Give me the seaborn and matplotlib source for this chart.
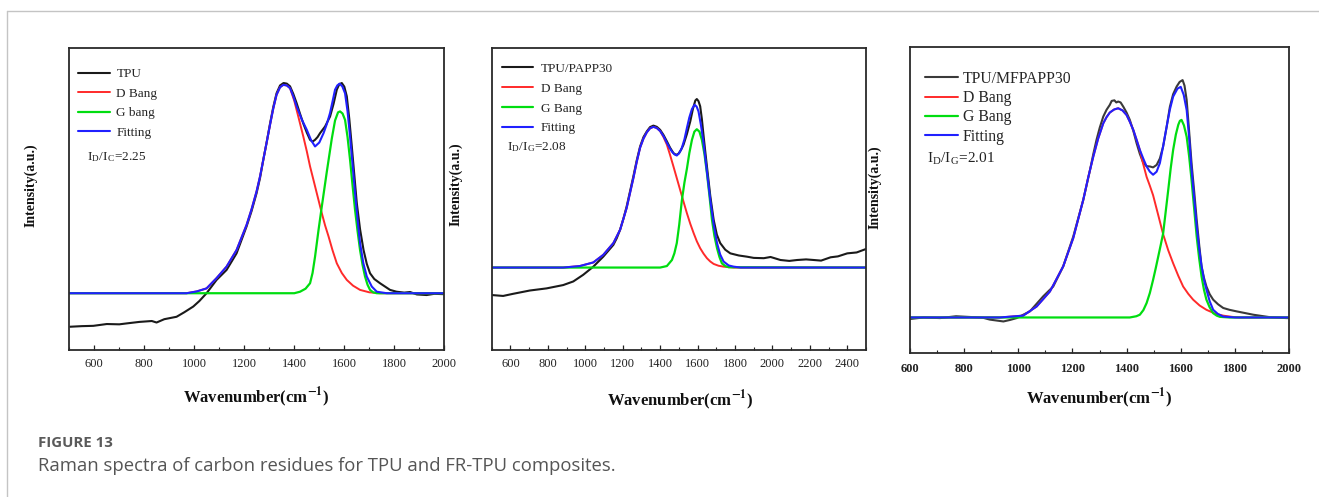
import numpy as np
import pandas as pd
import matplotlib
matplotlib.use("Agg")
import matplotlib.pyplot as plt
from matplotlib.lines import Line2D
from matplotlib.ticker import MultipleLocator
import seaborn as sns

# ---------------- data (arbitrary intensity units) ----------------
# Panel 1 : TPU
p1_raw_x = [503, 550, 596, 650, 700, 729, 780, 830, 849, 880, 929, 960, 996, 1020, 1049, 1089, 1129,
            1169, 1209, 1229, 1249, 1263, 1276, 1290, 1303, 1316, 1329, 1343, 1357, 1370, 1383, 1396,
            1409, 1423, 1436, 1450, 1463, 1473, 1483, 1493, 1503, 1523, 1543, 1557, 1570, 1580, 1590,
            1600, 1610, 1620, 1630, 1640, 1650, 1663, 1677, 1690, 1703, 1720, 1743, 1783, 1809, 1840,
            1863, 1890, 1929, 1960, 1996]
p1_raw_y = [7.7, 7.9, 8.0, 8.6, 8.5, 8.8, 9.3, 9.6, 9.1, 10.2, 11.0, 12.5, 14.4, 16.2, 18.8, 23.2, 26.5,
            32.0, 40.9, 46.0, 51.9, 57.0, 63.0, 69.0, 75.0, 80.5, 85.0, 87.6, 88.4, 88.2, 87.3, 84.8,
            81.8, 78.2, 75.0, 72.0, 69.6, 69.0, 69.6, 70.5, 71.8, 74.0, 77.3, 81.5, 86.2, 88.0, 88.4,
            87.2, 84.0, 76.5, 67.4, 58.0, 48.6, 40.0, 33.1, 28.5, 25.4, 23.5, 22.1, 19.9, 19.3, 19.0,
            19.2, 18.4, 18.2, 18.6, 18.5]
p1_fit_x = [500, 969, 1010, 1049, 1089, 1129, 1169, 1209, 1229, 1249, 1263, 1276, 1290, 1303, 1316,
            1329, 1343, 1356, 1370, 1383, 1396, 1409, 1430, 1450, 1467, 1483, 1500, 1517, 1530, 1543,
            1553, 1563, 1572, 1581, 1592, 1603, 1613, 1623, 1633, 1643, 1653, 1663, 1676, 1690, 1710,
            1730, 1770, 1830, 2000]
p1_fit_y = [18.8, 18.8, 19.4, 20.4, 23.8, 27.6, 33.1, 41.4, 46.6, 52.5, 57.5, 63.0, 69.0, 74.6, 80.0,
            84.5, 87.0, 87.8, 87.6, 86.7, 84.0, 80.7, 76.3, 72.9, 69.5, 67.4, 68.7, 71.8, 74.8, 78.5,
            82.3, 86.2, 87.6, 88.2, 87.3, 85.0, 79.0, 70.7, 61.5, 51.9, 43.2, 35.4, 28.8, 24.3, 21.0,
            19.3, 18.8, 18.8, 18.8]
p1_d_x = [500, 969, 1010, 1049, 1089, 1129, 1169, 1209, 1229, 1249, 1263, 1276, 1290, 1303, 1316,
          1329, 1343, 1356, 1370, 1383, 1400, 1416, 1436, 1450, 1463, 1477, 1490, 1510, 1523, 1537,
          1553, 1570, 1590, 1610, 1635, 1663, 1700, 1743, 2000]
p1_d_y = [18.8, 18.8, 19.4, 20.4, 23.8, 27.6, 33.1, 41.4, 46.6, 52.5, 57.5, 63.0, 69.0, 74.6, 80.0,
          84.5, 87.0, 87.8, 87.6, 86.7, 82.5, 77.3, 70.7, 65.8, 60.8, 56.2, 51.9, 45.3, 41.3, 37.6,
          33.0, 28.7, 25.5, 23.2, 21.3, 19.9, 19.1, 18.8, 18.8]
p1_g_x = [500, 1400, 1423, 1445, 1463, 1473, 1483, 1497, 1510, 1530, 1550, 1563, 1575, 1583, 1593,
          1603, 1613, 1623, 1633, 1643, 1653, 1663, 1673, 1683, 1693, 1703, 1715, 1730, 2000]
p1_g_y = [18.8, 18.8, 19.3, 20.3, 22.1, 25.5, 30.9, 39.8, 47.5, 59.0, 70.0, 76.0, 78.7, 79.0, 78.3,
          76.2, 70.5, 63.0, 54.5, 46.4, 39.4, 33.1, 28.2, 24.3, 21.6, 19.9, 19.1, 18.8, 18.8]

# Panel 2 : TPU/PAPP30
p2_raw_x = [500, 561, 614, 704, 793, 882, 936, 989, 1043, 1096, 1150, 1168, 1186, 1203, 1221, 1239,
            1257, 1275, 1293, 1311, 1329, 1346, 1364, 1382, 1400, 1418, 1436, 1453, 1471, 1485, 1498,
            1511, 1525, 1543, 1561, 1575, 1588, 1596, 1605, 1614, 1623, 1632, 1641, 1650, 1668, 1686,
            1703, 1721, 1748, 1775, 1820, 1864, 1900, 1954, 1990, 2043, 2090, 2132, 2180, 2221, 2260,
            2311, 2350, 2400, 2450, 2498]
p2_raw_y = [18.2, 17.9, 18.6, 19.7, 20.4, 21.5, 22.7, 24.9, 27.6, 30.9, 34.8, 37.0, 39.8, 43.3, 47.5,
            52.5, 57.5, 62.8, 67.4, 70.5, 72.4, 73.8, 74.3, 73.9, 72.9, 71.2, 69.1, 67.0, 65.2, 64.6,
            65.0, 66.2, 68.0, 71.5, 75.7, 79.8, 82.6, 83.1, 82.4, 80.7, 76.5, 71.0, 65.8, 60.8, 51.0,
            43.1, 38.2, 35.4, 33.2, 32.0, 31.3, 30.9, 30.5, 30.4, 30.8, 29.8, 29.5, 29.8, 30.0, 29.8,
            29.6, 30.7, 31.0, 32.0, 32.3, 33.4]
p2_fit_x = [500, 882, 971, 1043, 1096, 1150, 1186, 1221, 1257, 1275, 1293, 1311, 1329, 1346, 1364,
            1382, 1400, 1418, 1436, 1450, 1463, 1476, 1489, 1502, 1516, 1530, 1543, 1556, 1570, 1584,
            1595, 1605, 1618, 1632, 1650, 1668, 1686, 1704, 1721, 1739, 1766, 1793, 1830, 2500]
p2_fit_y = [27.3, 27.3, 27.8, 29.0, 31.5, 35.4, 39.8, 47.0, 56.9, 62.3, 67.0, 70.0, 72.1, 73.4, 73.9,
            73.5, 72.5, 70.8, 68.6, 67.0, 65.7, 64.8, 64.4, 65.2, 66.9, 69.8, 73.5, 77.0, 79.8, 81.2,
            80.6, 79.0, 74.5, 68.5, 59.0, 49.7, 41.5, 35.4, 31.6, 29.3, 28.0, 27.6, 27.3, 27.3]
p2_d_x = [500, 882, 971, 1043, 1096, 1150, 1186, 1221, 1257, 1275, 1293, 1311, 1329, 1346, 1364,
          1382, 1400, 1418, 1436, 1453, 1471, 1489, 1507, 1525, 1543, 1561, 1579, 1596, 1614, 1632,
          1650, 1668, 1686, 1712, 1739, 1793, 2500]
p2_d_y = [27.3, 27.3, 27.8, 29.0, 31.5, 35.4, 39.8, 47.0, 56.9, 62.3, 67.0, 70.0, 72.1, 73.4, 73.9,
          73.5, 72.5, 70.5, 68.0, 64.6, 60.8, 56.9, 53.0, 49.1, 45.3, 41.8, 38.7, 36.0, 33.7, 31.9,
          30.4, 29.3, 28.5, 27.9, 27.6, 27.3, 27.3]
p2_g_x = [500, 1400, 1436, 1463, 1476, 1489, 1502, 1516, 1530, 1543, 1556, 1570, 1583, 1596, 1610,
          1623, 1637, 1650, 1664, 1677, 1690, 1704, 1717, 1730, 1748, 1766, 2500]
p2_g_y = [27.3, 27.3, 27.8, 29.8, 32.0, 35.4, 41.5, 49.5, 55.5, 60.0, 65.2, 69.6, 72.3, 73.1, 72.3,
          69.6, 64.8, 58.6, 50.8, 43.1, 37.8, 33.7, 30.8, 28.7, 27.8, 27.4, 27.3]

# Panel 3 : TPU/MFPAPP30
p3_raw_x = [600, 650, 711, 770, 834, 870, 895, 945, 970, 994, 1043, 1092, 1129, 1166, 1203, 1240,
            1253, 1265, 1277, 1289, 1301, 1314, 1326, 1338, 1345, 1355, 1362, 1369, 1378, 1388, 1400,
            1412, 1425, 1437, 1449, 1462, 1474, 1486, 1498, 1511, 1523, 1535, 1548, 1560, 1572, 1585,
            1596, 1607, 1614, 1622, 1631, 1640, 1650, 1659, 1668, 1677, 1686, 1695, 1707, 1720, 1738,
            1757, 1780, 1806, 1868, 1929, 1991, 2000]
p3_raw_y = [11.1, 11.6, 11.4, 12.0, 11.7, 11.5, 10.9, 10.3, 10.8, 11.4, 13.6, 18.5, 21.7, 28.3, 38.0,
            50.0, 55.0, 59.8, 64.9, 69.6, 73.6, 77.2, 79.4, 81.0, 82.3, 82.5, 81.8, 82.1, 81.8, 80.4,
            78.5, 76.1, 72.5, 68.5, 65.0, 62.0, 61.0, 60.9, 60.6, 61.4, 63.5, 67.4, 73.8, 80.4, 84.5,
            87.0, 88.5, 89.1, 87.3, 82.6, 72.5, 62.0, 52.5, 43.5, 35.5, 28.3, 24.5, 21.7, 19.2, 17.4,
            15.9, 14.7, 14.1, 13.6, 12.5, 11.7, 11.4, 11.4]
p3_fit_x = [600, 932, 1018, 1068, 1117, 1166, 1203, 1240, 1258, 1277, 1295, 1314, 1326, 1338, 1354,
            1369, 1385, 1400, 1412, 1425, 1437, 1449, 1462, 1474, 1486, 1498, 1511, 1523, 1535, 1548,
            1560, 1572, 1588, 1600, 1611, 1622, 1631, 1640, 1650, 1659, 1668, 1677, 1686, 1695, 1707,
            1720, 1738, 1757, 1800, 2000]
p3_fit_y = [11.6, 11.6, 12.2, 15.2, 20.1, 28.3, 37.5, 50.0, 57.2, 64.1, 70.0, 75.0, 77.0, 78.5, 79.5,
            79.9, 79.2, 77.7, 75.5, 72.8, 69.6, 66.3, 63.4, 60.9, 59.2, 58.2, 59.2, 62.0, 67.5, 73.9,
            79.5, 83.7, 86.3, 86.9, 84.3, 79.3, 70.5, 59.8, 50.2, 41.3, 34.2, 28.3, 23.9, 20.7, 16.9,
            14.1, 12.7, 11.9, 11.6, 11.6]
p3_d_x = [600, 932, 1018, 1068, 1117, 1166, 1203, 1240, 1258, 1277, 1295, 1314, 1326, 1338, 1354,
          1369, 1385, 1400, 1412, 1425, 1437, 1449, 1462, 1474, 1486, 1498, 1517, 1535, 1554, 1572,
          1591, 1609, 1628, 1646, 1670, 1695, 1726, 1757, 1790, 1818, 2000]
p3_d_y = [11.6, 11.6, 12.2, 15.2, 20.1, 28.3, 37.5, 50.0, 57.2, 64.1, 70.0, 75.0, 77.0, 78.5, 79.5,
          79.9, 79.2, 77.7, 75.5, 72.8, 69.6, 66.3, 61.5, 57.5, 54.6, 51.5, 45.0, 38.8, 33.5, 29.3,
          25.2, 21.7, 19.3, 17.4, 15.5, 14.1, 12.9, 12.2, 11.8, 11.6, 11.6]
p3_g_x = [600, 1412, 1436, 1449, 1462, 1474, 1486, 1498, 1508, 1517, 1526, 1535, 1545, 1554, 1563,
          1572, 1582, 1591, 1597, 1603, 1612, 1622, 1631, 1640, 1650, 1659, 1668, 1677, 1686, 1695,
          1707, 1720, 1733, 1745, 1780, 2000]
p3_g_y = [11.6, 11.6, 12.0, 12.5, 14.0, 16.3, 19.6, 23.9, 27.8, 31.5, 35.2, 39.0, 46.5, 53.3, 60.3,
          66.3, 71.3, 74.5, 75.8, 76.1, 74.3, 70.6, 64.3, 56.5, 46.8, 38.0, 31.0, 25.0, 20.6, 17.4,
          14.9, 13.0, 12.2, 11.8, 11.6, 11.6]

sample_names = ["TPU", "TPU/PAPP30", "TPU/MFPAPP30"]
d_labels = ["D Bang", "D Bang", "D Bang"]
g_labels = ["G bang", "G Bang", "G Bang"]
ratio_texts = [r"I$_\mathregular{D}$/I$_\mathregular{C}$=2.25",
               r"I$_\mathregular{D}$/I$_\mathregular{G}$=2.08",
               r"I$_\mathregular{D}$/I$_\mathregular{G}$=2.01"]
x_limits = [(500, 2000), (500, 2500), (600, 2000)]
x_ticks = [list(range(600, 2001, 200)), list(range(600, 2401, 200)), list(range(600, 2001, 200))]

panels = [
    (p1_raw_x, p1_raw_y, p1_d_x, p1_d_y, p1_g_x, p1_g_y, p1_fit_x, p1_fit_y),
    (p2_raw_x, p2_raw_y, p2_d_x, p2_d_y, p2_g_x, p2_g_y, p2_fit_x, p2_fit_y),
    (p3_raw_x, p3_raw_y, p3_d_x, p3_d_y, p3_g_x, p3_g_y, p3_fit_x, p3_fit_y),
]

# ---------------- styling ----------------
sns.set_style("white")
plt.rcParams["font.family"] = ["Liberation Serif", "DejaVu Serif"]
plt.rcParams["mathtext.fontset"] = "stix"

fig = plt.figure(figsize=(13.19, 4.97), dpi=100)

W, H = 1319.0, 497.0
boxes = [(69.3, 48, 444.3, 350), (491.7, 48, 866, 350), (910, 46.7, 1289, 353)]
legend_anchor = [(0.023, 0.934), (0.028, 0.952), (0.040, 0.922)]
legend_fs = [9.5, 9.5, 11.3]
legend_hl = [2.42, 2.35, 2.1]
legend_tp = [0.5, 0.6, 0.3]
legend_ls = [0.55, 0.58, 0.22]
text_pos = [(0.047, 0.64), (0.041, 0.672), (0.045, 0.632)]
text_fs = [9.5, 9.5, 11]
ylab_pos = [(-0.086, 0.546), (-0.077, 0.55), (-0.074, 0.54)]
xlab_pos = [(0.497, -0.116), (0.503, -0.126), (0.5, -0.108)]
tick_pad = [6.0, 6.0, 7.5]

c_raw = ["#1a1a1a", "#1a1a1a", "#3a3a3a"]
c_d = "#ff2a2a"
c_g = "#00dd10"
c_fit = "#2020ff"

for i, (rx, ry, dx, dy, gx, gy, fx, fy) in enumerate(panels):
    l, t, r, b = boxes[i]
    ax = fig.add_axes([l / W, 1 - b / H, (r - l) / W, (b - t) / H])
    sns.lineplot(x=rx, y=ry, ax=ax, color=c_raw[i], lw=1.5, label=sample_names[i])
    sns.lineplot(x=dx, y=dy, ax=ax, color=c_d, lw=1.4, label=d_labels[i])
    sns.lineplot(x=gx, y=gy, ax=ax, color=c_g, lw=1.6, label=g_labels[i])
    sns.lineplot(x=fx, y=fy, ax=ax, color=c_fit, lw=1.5, label="Fitting")
    ax.set_xlim(*x_limits[i])
    ax.set_ylim(0, 100)
    ax.set_yticks([])
    ax.set_xticks(x_ticks[i])
    ax.xaxis.set_minor_locator(MultipleLocator(100))
    ax.tick_params(axis="x", which="major", direction="in", length=3.5, width=0.9,
                   labelsize=9, pad=tick_pad[i], colors="#222222")
    ax.tick_params(axis="x", which="minor", direction="in", length=2, width=0.8, colors="#222222")
    ax.tick_params(axis="x", which="both", bottom=True)
    if i == 2:
        for lab in ax.get_xticklabels():
            lab.set_fontweight("bold")
    for s in ax.spines.values():
        s.set_visible(True)
        s.set_color("#2a2a2a")
        s.set_linewidth(1.3)
    ax.set_xlabel(r"Wavenumber(cm$^{\mathbf{-1}}$)", fontsize=12, fontweight="bold", color="#111111")
    ax.xaxis.set_label_coords(*xlab_pos[i])
    ax.set_ylabel("Intensity(a.u.)", fontsize=10, fontweight="bold", color="#111111")
    ax.yaxis.set_label_coords(*ylab_pos[i])
    ax.legend(loc="upper left", bbox_to_anchor=legend_anchor[i], frameon=False,
              borderaxespad=0, borderpad=0, handlelength=legend_hl[i], handletextpad=legend_tp[i],
              labelspacing=legend_ls[i], fontsize=legend_fs[i])
    ax.text(*text_pos[i], ratio_texts[i], transform=ax.transAxes, va="center", ha="left",
            fontsize=text_fs[i], color="#222222")

# outer frame (light grey) and caption
fig.add_artist(Line2D([6.5 / W, 6.5 / W], [0, 1 - 10.5 / H], transform=fig.transFigure,
                      color="#c4c4c4", lw=1.0))
fig.add_artist(Line2D([6.5 / W, 1.0], [1 - 10.5 / H, 1 - 10.5 / H], transform=fig.transFigure,
                      color="#c4c4c4", lw=1.0))
fig.text(38 / W, 1 - 443 / H, "FIGURE 13", family=["Open Sans", "DejaVu Sans"], fontsize=10.8,
         fontweight="bold", color="#5a5a5a", va="center", ha="left")
fig.text(38 / W, 1 - 466 / H, "Raman spectra of carbon residues for TPU and FR-TPU composites.",
         family=["Open Sans", "DejaVu Sans"], fontsize=13.3, color="#555555", va="center", ha="left")

fig.savefig("out.png", dpi=100)
